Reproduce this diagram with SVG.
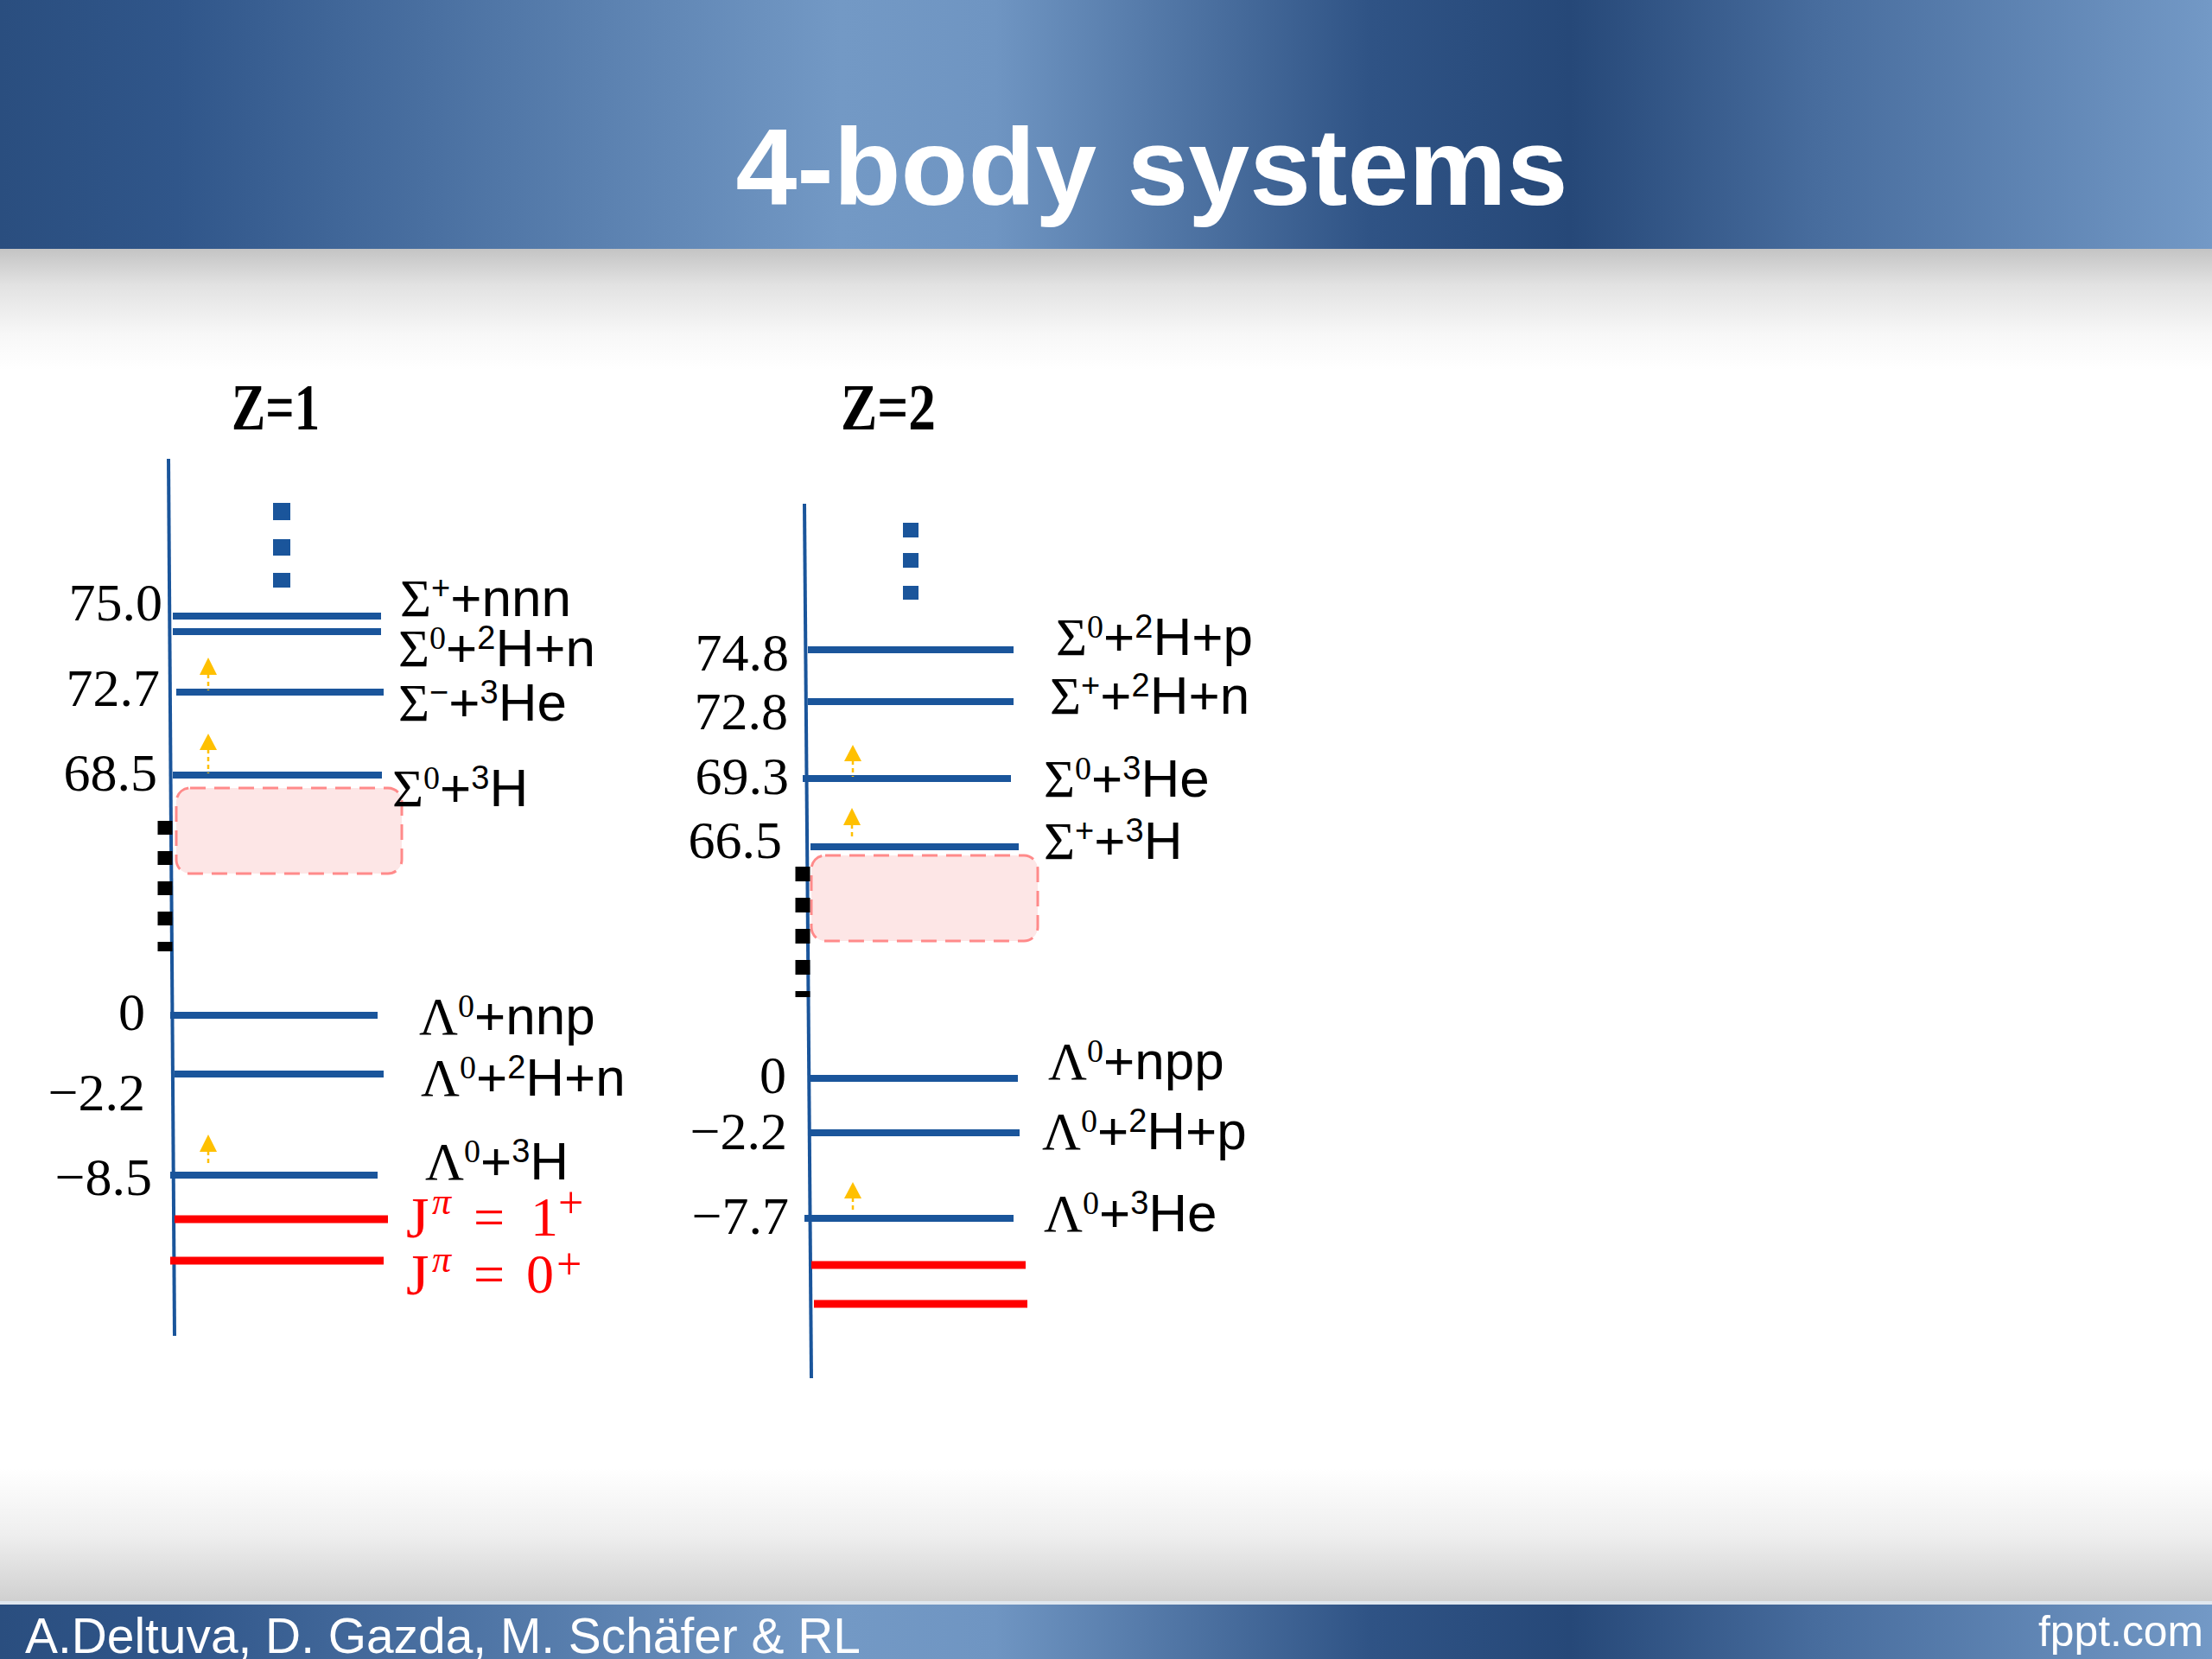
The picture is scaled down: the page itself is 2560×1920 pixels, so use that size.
<svg xmlns="http://www.w3.org/2000/svg" width="2560" height="1920" viewBox="0 0 2560 1920">
<defs>
<linearGradient id="bar" x1="0" y1="0" x2="1" y2="0">
<stop offset="0" stop-color="#2a4e7f"/>
<stop offset="0.08" stop-color="#30568a"/>
<stop offset="0.38" stop-color="#7399c5"/>
<stop offset="0.45" stop-color="#6f95c2"/>
<stop offset="0.62" stop-color="#2f5385"/>
<stop offset="0.71" stop-color="#264878"/>
<stop offset="0.82" stop-color="#476c9d"/>
<stop offset="1" stop-color="#7399c6"/>
</linearGradient>
<linearGradient id="shadeTop" x1="0" y1="0" x2="0" y2="1">
<stop offset="0" stop-color="#c4c4c4"/>
<stop offset="0.3" stop-color="#e2e2e2"/>
<stop offset="0.7" stop-color="#f7f7f7"/>
<stop offset="1" stop-color="#ffffff"/>
</linearGradient>
<linearGradient id="shadeBot" x1="0" y1="0" x2="0" y2="1">
<stop offset="0" stop-color="#ffffff"/>
<stop offset="0.5" stop-color="#eeeeee"/>
<stop offset="1" stop-color="#cfcfcf"/>
</linearGradient>
<style>
.num{font-family:"Liberation Serif","Times New Roman",serif;font-size:62px;fill:#000;text-anchor:end}
.lab{font-family:"Liberation Sans",Arial,sans-serif;font-size:62px;fill:#000}
.gr{font-family:"Liberation Serif","Times New Roman",serif}
.sup{font-size:38px}
.ztl{font-family:"Liberation Serif","Times New Roman",serif;font-weight:bold;font-size:76px;fill:#000}
.jl{font-family:"Liberation Serif","Times New Roman",serif;font-size:64px;fill:#ff0000}
.jJ{font-size:68px}
.jpi{font-size:44px;font-style:italic}
.jsup{font-size:52px}
.axis{stroke:#1a559b;stroke-width:4;fill:none}
.lvl{stroke:#1a559b;stroke-width:8;fill:none}
.red{stroke:#ff0000;stroke-width:9;fill:none}
.box{fill:#fde6e6;stroke:#ff8a8a;stroke-width:3;stroke-dasharray:18 10}
.bdots{stroke:#000;stroke-width:17;fill:none}
.sq{fill:#1a559b}
.ahead{fill:#ffc000}
.astem{stroke:#ffc000;stroke-width:2.5;stroke-dasharray:5 4;fill:none}
</style>
</defs>

<rect x="0" y="0" width="2560" height="1920" fill="#ffffff"/>
<rect x="0" y="0" width="2560" height="288" fill="url(#bar)"/>
<rect x="0" y="288" width="2560" height="140" fill="url(#shadeTop)"/>
<text x="1333" y="237" text-anchor="middle" font-family="'Liberation Sans',Arial,sans-serif" font-weight="bold" font-size="127" fill="#ffffff" textLength="963" lengthAdjust="spacingAndGlyphs">4-body systems</text>

<rect x="0" y="1700" width="2560" height="155" fill="url(#shadeBot)"/>
<rect x="0" y="1853" width="2560" height="4" fill="#dfe7ef"/>
<rect x="0" y="1857" width="2560" height="63" fill="url(#bar)"/>
<text x="29" y="1913" font-family="'Liberation Sans',Arial,sans-serif" font-size="58" fill="#ffffff" textLength="967" lengthAdjust="spacingAndGlyphs">A.Deltuva, D. Gazda, M. Schäfer &amp; RL</text>
<text x="2359" y="1905" font-family="'Liberation Sans',Arial,sans-serif" font-size="50" fill="#ffffff" textLength="191" lengthAdjust="spacingAndGlyphs">fppt.com</text>

<!-- Z=1 column -->
<g id="z1">
<text class="ztl" x="268" y="497" textLength="102" lengthAdjust="spacingAndGlyphs">Z=1</text>
<line class="axis" x1="195" y1="531" x2="202" y2="1546"/>
<rect class="sq" x="316" y="582" width="20" height="20"/>
<rect class="sq" x="316" y="624" width="20" height="19"/>
<rect class="sq" x="316" y="663" width="20" height="17"/>
<rect class="box" x="204" y="912" width="261" height="99" rx="16"/>
<line class="bdots" x1="191" y1="950" x2="191" y2="1101" stroke-dasharray="16 19"/>
</g>

<g id="z1-sp-nnn">
<line class="lvl" x1="200" y1="713" x2="441" y2="713"/>
<text class="num" x="188" y="718">75.0</text>
<text class="lab" x="463" y="713"><tspan class="gr">Σ</tspan><tspan class="sup" dy="-20">+</tspan><tspan dy="20">+nnn</tspan></text>
</g>
<g id="z1-s0-2hn">
<line class="lvl" x1="200" y1="731" x2="441" y2="731"/>
<text class="lab" x="461" y="771"><tspan class="gr">Σ</tspan><tspan class="sup gr" dy="-20">0</tspan><tspan dy="20">+</tspan><tspan class="sup" dy="-20">2</tspan><tspan dy="20">H+n</tspan></text>
</g>
<g id="z1-sm-3he">
<line class="lvl" x1="204" y1="801" x2="444" y2="801"/>
<text class="num" x="185" y="817">72.7</text>
<text class="lab" x="461" y="834"><tspan class="gr">Σ</tspan><tspan class="sup" dy="-20">−</tspan><tspan dy="20">+</tspan><tspan class="sup" dy="-20">3</tspan><tspan dy="20">He</tspan></text>
</g>
<g id="z1-s0-3h">
<line class="lvl" x1="200" y1="897" x2="442" y2="897"/>
<text class="num" x="182" y="915">68.5</text>
<text class="lab" x="454" y="933"><tspan class="gr">Σ</tspan><tspan class="sup gr" dy="-20">0</tspan><tspan dy="20">+</tspan><tspan class="sup" dy="-20">3</tspan><tspan dy="20">H</tspan></text>
</g>
<g id="z1-l-nnp">
<line class="lvl" x1="197" y1="1175" x2="437" y2="1175"/>
<text class="num" x="168" y="1192">0</text>
<text class="lab" x="485" y="1197"><tspan class="gr">Λ</tspan><tspan class="sup gr" dy="-20">0</tspan><tspan dy="20">+nnp</tspan></text>
</g>
<g id="z1-l-2hn">
<line class="lvl" x1="202" y1="1243" x2="444" y2="1243"/>
<text class="num" x="168" y="1285">−2.2</text>
<text class="lab" x="487" y="1268"><tspan class="gr">Λ</tspan><tspan class="sup gr" dy="-20">0</tspan><tspan dy="20">+</tspan><tspan class="sup" dy="-20">2</tspan><tspan dy="20">H+n</tspan></text>
</g>
<g id="z1-l-3h">
<line class="lvl" x1="197" y1="1360" x2="437" y2="1360"/>
<text class="num" x="176" y="1383">−8.5</text>
<text class="lab" x="492" y="1365"><tspan class="gr">Λ</tspan><tspan class="sup gr" dy="-20">0</tspan><tspan dy="20">+</tspan><tspan class="sup" dy="-20">3</tspan><tspan dy="20">H</tspan></text>
</g>
<g id="z1-j1">
<line class="red" x1="202" y1="1411" x2="449" y2="1411"/>
<text class="jl" y="1432"><tspan class="jJ" x="470">J</tspan><tspan class="jpi" x="500" y="1405">π</tspan><tspan x="548" y="1430">=</tspan><tspan x="614">1</tspan><tspan class="jsup" x="646" y="1409">+</tspan></text>
</g>
<g id="z1-j0">
<line class="red" x1="197" y1="1459" x2="444" y2="1459"/>
<text class="jl" y="1498"><tspan class="jJ" x="470">J</tspan><tspan class="jpi" x="500" y="1472">π</tspan><tspan x="548" y="1496">=</tspan><tspan x="609">0</tspan><tspan class="jsup" x="644" y="1480">+</tspan></text>
</g>

<!-- Z=2 column -->
<g id="z2">
<text class="ztl" x="973" y="497" textLength="110" lengthAdjust="spacingAndGlyphs">Z=2</text>
<line class="axis" x1="931" y1="583" x2="939" y2="1595"/>
<rect class="sq" x="1045" y="605" width="18" height="17"/>
<rect class="sq" x="1045" y="640" width="18" height="17"/>
<rect class="sq" x="1045" y="678" width="18" height="16"/>
<rect class="box" x="939" y="990" width="262" height="99" rx="16"/>
<line class="bdots" x1="929" y1="1003" x2="929" y2="1154" stroke-dasharray="17 19"/>
</g>

<g id="z2-s0-2hp">
<line class="lvl" x1="935" y1="752" x2="1173" y2="752"/>
<text class="num" x="913" y="776">74.8</text>
<text class="lab" x="1222" y="758"><tspan class="gr">Σ</tspan><tspan class="sup gr" dy="-20">0</tspan><tspan dy="20">+</tspan><tspan class="sup" dy="-20">2</tspan><tspan dy="20">H+p</tspan></text>
</g>
<g id="z2-sp-2hn">
<line class="lvl" x1="935" y1="812" x2="1173" y2="812"/>
<text class="num" x="912" y="844">72.8</text>
<text class="lab" x="1215" y="826"><tspan class="gr">Σ</tspan><tspan class="sup" dy="-20">+</tspan><tspan dy="20">+</tspan><tspan class="sup" dy="-20">2</tspan><tspan dy="20">H+n</tspan></text>
</g>
<g id="z2-s0-3he">
<line class="lvl" x1="929" y1="901" x2="1170" y2="901"/>
<text class="num" x="913" y="919">69.3</text>
<text class="lab" x="1208" y="922"><tspan class="gr">Σ</tspan><tspan class="sup gr" dy="-20">0</tspan><tspan dy="20">+</tspan><tspan class="sup" dy="-20">3</tspan><tspan dy="20">He</tspan></text>
</g>
<g id="z2-sp-3h">
<line class="lvl" x1="938" y1="980" x2="1179" y2="980"/>
<text class="num" x="905" y="993">66.5</text>
<text class="lab" x="1208" y="994"><tspan class="gr">Σ</tspan><tspan class="sup" dy="-20">+</tspan><tspan dy="20">+</tspan><tspan class="sup" dy="-20">3</tspan><tspan dy="20">H</tspan></text>
</g>
<g id="z2-l-npp">
<line class="lvl" x1="937" y1="1248" x2="1178" y2="1248"/>
<text class="num" x="910" y="1265">0</text>
<text class="lab" x="1213" y="1249"><tspan class="gr">Λ</tspan><tspan class="sup gr" dy="-20">0</tspan><tspan dy="20">+npp</tspan></text>
</g>
<g id="z2-l-2hp">
<line class="lvl" x1="937" y1="1311" x2="1180" y2="1311"/>
<text class="num" x="911" y="1330">−2.2</text>
<text class="lab" x="1206" y="1330"><tspan class="gr">Λ</tspan><tspan class="sup gr" dy="-20">0</tspan><tspan dy="20">+</tspan><tspan class="sup" dy="-20">2</tspan><tspan dy="20">H+p</tspan></text>
</g>
<g id="z2-l-3he">
<line class="lvl" x1="931" y1="1410" x2="1173" y2="1410"/>
<text class="num" x="913" y="1428">−7.7</text>
<text class="lab" x="1208" y="1425"><tspan class="gr">Λ</tspan><tspan class="sup gr" dy="-20">0</tspan><tspan dy="20">+</tspan><tspan class="sup" dy="-20">3</tspan><tspan dy="20">He</tspan></text>
</g>
<g id="z2-r1">
<line class="red" x1="939" y1="1464" x2="1187" y2="1464"/>
</g>
<g id="z2-r0">
<line class="red" x1="942" y1="1509" x2="1189" y2="1509"/>
</g>

<!-- connectors: small yellow arrows -->
<g id="connectors">
<line class="astem" x1="241" y1="780" x2="241" y2="799"/>
<polygon class="ahead" points="241,761 231,781 251,781"/>
<line class="astem" x1="241" y1="867" x2="241" y2="895"/>
<polygon class="ahead" points="241,849 231,868 251,868"/>
<line class="astem" x1="241" y1="1332" x2="241" y2="1349"/>
<polygon class="ahead" points="241,1313 231,1333 251,1333"/>
<line class="astem" x1="987" y1="880" x2="987" y2="899"/>
<polygon class="ahead" points="987,862 977,881 997,881"/>
<line class="astem" x1="986" y1="954" x2="986" y2="971"/>
<polygon class="ahead" points="986,935 976,955 996,955"/>
<line class="astem" x1="987" y1="1386" x2="987" y2="1402"/>
<polygon class="ahead" points="987,1368 977,1387 997,1387"/>
</g>
</svg>
